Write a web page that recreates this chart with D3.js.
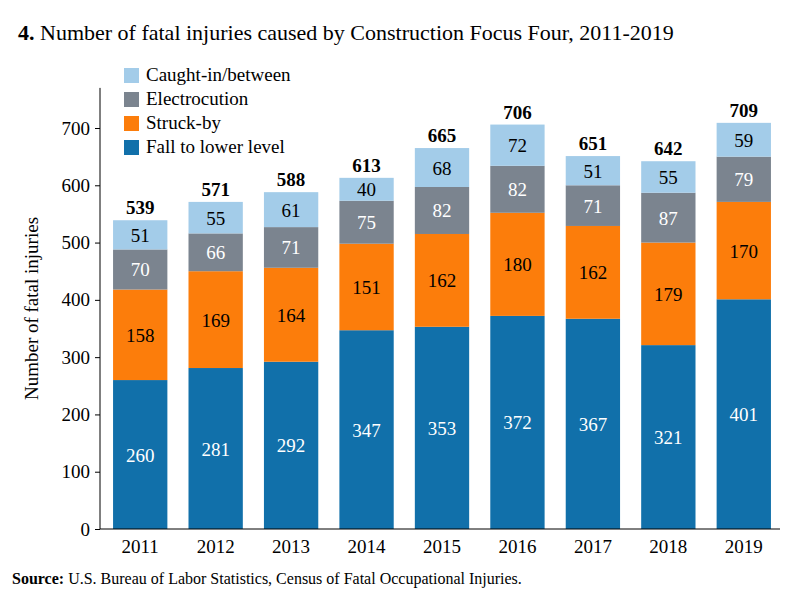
<!DOCTYPE html>
<html>
<head>
<meta charset="UTF-8">
<script src="https://cdn.jsdelivr.net/npm/d3@7"></script>
<style>
  body { margin: 0; background: white; }
  text { font-family: "Liberation Serif", "Times New Roman", serif; }
</style>
</head>
<body>
<svg id="chart" width="800" height="600"></svg>
<script>
// data
const years = ["2011","2012","2013","2014","2015","2016","2017","2018","2019"];
const fall = [260, 281, 292, 347, 353, 372, 367, 321, 401];
const struck = [158, 169, 164, 151, 162, 180, 162, 179, 170];
const electro = [70, 66, 71, 75, 82, 82, 71, 87, 79];
const caught = [51, 55, 61, 40, 68, 72, 51, 55, 59];
const totals = [539, 571, 588, 613, 665, 706, 651, 642, 709];
const yTicks = [0, 100, 200, 300, 400, 500, 600, 700];

const seriesNames = ["Fall to lower level", "Struck-by", "Electrocution", "Caught-in/between"];
const seriesColors = ["#1170aa", "#fc7d0b", "#7b848f", "#a3cce9"];
const labelColors = ["white", "black", "white", "black"];
const seriesValues = [fall, struck, electro, caught];

const svg = d3.select("#chart");
const margin = {left: 100, right: 20, top: 60, bottom: 71};
const W = 800, H = 600;

const x = d3.scaleBand().domain(years).range([margin.left + 4, W - margin.right]).paddingInner(0.28).paddingOuter(0.12);
const y = d3.scaleLinear().domain([0, 700]).range([H - margin.bottom, 128]);

// title
const title = svg.append("text").attr("x", 18).attr("y", 40).attr("font-size", 22);
title.append("tspan").attr("font-weight", "bold").text("4.");
title.append("tspan").text(" Number of fatal injuries caused by Construction Focus Four, 2011-2019");

// stacked data
const table = years.map((yr, i) => {
  const row = {year: yr};
  seriesNames.forEach((s, k) => row[s] = seriesValues[k][i]);
  return row;
});
const stack = d3.stack().keys(seriesNames)(table);

stack.forEach((layer, k) => {
  const g = svg.append("g");
  g.selectAll("rect").data(layer).enter().append("rect")
    .attr("x", d => x(d.data.year))
    .attr("width", x.bandwidth())
    .attr("y", d => y(d[1]))
    .attr("height", d => y(d[0]) - y(d[1]))
    .attr("fill", seriesColors[k]);
  g.selectAll("text").data(layer).enter().append("text")
    .attr("x", d => x(d.data.year) + x.bandwidth() / 2)
    .attr("y", d => (y(d[0]) + y(d[1])) / 2 + 7)
    .attr("text-anchor", "middle")
    .attr("font-size", 19)
    .attr("fill", labelColors[k])
    .text(d => d[1] - d[0]);
});

// totals
svg.append("g").selectAll("text").data(years).enter().append("text")
  .attr("x", d => x(d) + x.bandwidth() / 2)
  .attr("y", (d, i) => y(totals[i]) - 6)
  .attr("text-anchor", "middle")
  .attr("font-size", 19)
  .attr("font-weight", "bold")
  .text((d, i) => totals[i]);

// axes
const yAxis = svg.append("g").attr("transform", `translate(${margin.left},0)`)
  .call(d3.axisLeft(y).tickValues(yTicks).tickSize(5).tickSizeOuter(0));
yAxis.selectAll("text").attr("font-size", 19).attr("font-family", "Liberation Serif").attr("fill", "black").attr("dx", "-2");
yAxis.select(".domain").attr("d", `M0,${y(0)}V${y(770)}`);

const xAxis = svg.append("g").attr("transform", `translate(0,${y(0)})`)
  .call(d3.axisBottom(x).tickSize(0));
xAxis.selectAll("text").attr("font-size", 19).attr("font-family", "Liberation Serif").attr("fill", "black").attr("dy", "1.1em");
xAxis.select(".domain").attr("d", `M${margin.left},0H${W - margin.right}`);

svg.append("text")
  .attr("transform", `translate(38,${(y(0) + y(700)) / 2 - 20}) rotate(-90)`)
  .attr("text-anchor", "middle").attr("font-size", 19)
  .text("Number of fatal injuries");

// legend (reverse order)
const legendOrder = [3, 2, 1, 0];
legendOrder.forEach((k, i) => {
  const ly = 68 + i * 24;
  svg.append("rect").attr("x", 124).attr("y", ly).attr("width", 15).attr("height", 15).attr("fill", seriesColors[k]);
  svg.append("text").attr("x", 146).attr("y", ly + 13).attr("font-size", 19).text(seriesNames[k]);
});

// source
const src = svg.append("text").attr("x", 12).attr("y", 584).attr("font-size", 16);
src.append("tspan").attr("font-weight", "bold").text("Source:");
src.append("tspan").text(" U.S. Bureau of Labor Statistics, Census of Fatal Occupational Injuries.");
</script>
</body>
</html>
